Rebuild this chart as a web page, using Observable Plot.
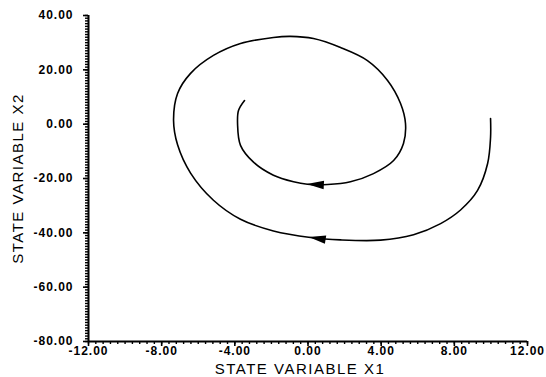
<!DOCTYPE html>
<html><head><meta charset="utf-8">
<script src="https://cdn.jsdelivr.net/npm/d3@7"></script>
<script src="https://cdn.jsdelivr.net/npm/@observablehq/plot@0.6"></script>
<style>body{margin:0;background:#fff}</style>
</head><body><div id="chart"></div>
<script>
// Trajectory samples (state variable X1, X2), from outer end to inner end
const stateX1 = [9.98, 9.98, 9.82, 9.27, 8.34, 7.25, 5.77, 3.97, 1.78, 0.14, -1.89, -3.69, -5.17, -6.42, -7.13, -7.35, -7.13, -6.42, -5.17, -3.69, -1.89, -0.96, 0.30, 1.78, 3.25, 4.35, 5.06, 5.33, 5.22, 4.68, 3.58, 2.32, 1.07, -0.03, -0.79, -1.89, -2.98, -3.69, -3.85, -3.80, -3.47];
const stateX2 = [2.1, -4.9, -14.5, -24.4, -31.6, -36.6, -40.7, -42.7, -42.6, -41.7, -39.3, -35.0, -28.0, -18.0, -7.6, 1.35, 11.3, 18.7, 25.3, 29.7, 31.9, 32.3, 31.5, 28.2, 23.4, 16.1, 7.6, 0.25, -7.1, -13.4, -18.2, -21.2, -22.2, -22.1, -21.2, -18.8, -14.0, -7.8, 0.0, 5.0, 8.7];
// Direction arrows on the trajectory
const arrowX1 = [0.5, 0.4];
const arrowX2 = [-42.0, -22.2];
const arrowHeading = [-81, -87];
// Tick labels
const xTicks = [-12, -8, -4, 0, 4, 8, 12];
const yTicks = [40, 20, 0, -20, -40, -60, -80];
const xTitle = "STATE VARIABLE X1";
const yTitle = "STATE VARIABLE X2";

const traj = stateX1.map((x, i) => ({x, y: stateX2[i]}));
const arrows = arrowX1.map((x, i) => ({x, y: arrowX2[i], a: arrowHeading[i]}));

const arrowHead = {
  draw(ctx, size) {
    const l = Math.sqrt(size) * 1.75, w = l * 0.5;
    ctx.moveTo(0, -l / 2);
    ctx.lineTo(w / 2, l / 2);
    ctx.lineTo(-w / 2, l / 2);
    ctx.closePath();
  }
};
const fmt = d => d.toFixed(2);

const chart = Plot.plot({
  width: 546, height: 377,
  marginLeft: 88, marginRight: 19, marginTop: 15, marginBottom: 36,
  x: {domain: [-12, 12]},
  y: {domain: [-80, 40]},
  style: {fontFamily: "Liberation Sans, Arial, sans-serif", background: "white", color: "black"},
  marks: [
    Plot.axisX(d3.range(-12, 12.001, 0.4), {tickSize: 3, text: null, strokeWidth: 1.4, label: null}),
    Plot.axisY(d3.range(-80, 40.001, 1), {tickSize: 3, text: null, strokeWidth: 1.4, label: null}),
    Plot.axisX(xTicks, {tickSize: 5, tickPadding: 0, tickFormat: fmt, fontSize: 12, fontWeight: "bold", strokeWidth: 1.6, label: null}),
    Plot.axisY(yTicks, {tickSize: 5, tickPadding: 10, tickFormat: fmt, fontSize: 12, fontWeight: "bold", strokeWidth: 1.6, label: null}),
    Plot.ruleX([-12], {strokeWidth: 2}),
    Plot.ruleY([-80], {strokeWidth: 2}),
    Plot.text([xTitle], {frameAnchor: "bottom", lineAnchor: "bottom", dy: 32, dx: -8, fontSize: 15}),
    Plot.text([yTitle], {frameAnchor: "left", textAnchor: "middle", rotate: -90, dx: -70, fontSize: 15}),
    Plot.line(traj, {x: "x", y: "y", curve: "catmull-rom", strokeWidth: 1.6, stroke: "black"}),
    Plot.dot(arrows, {x: "x", y: "y", rotate: "a", symbol: arrowHead, r: 5.5, fill: "black", stroke: "none"})
  ]
});
document.getElementById("chart").append(chart);
d3.select(chart).selectAll('[aria-label="x-axis tick label"] text, [aria-label="y-axis tick label"] text').style("letter-spacing", "1px");
d3.select(chart).selectAll('g[aria-label="text"] text').style("letter-spacing", "1.5px");
</script>
</body></html>
